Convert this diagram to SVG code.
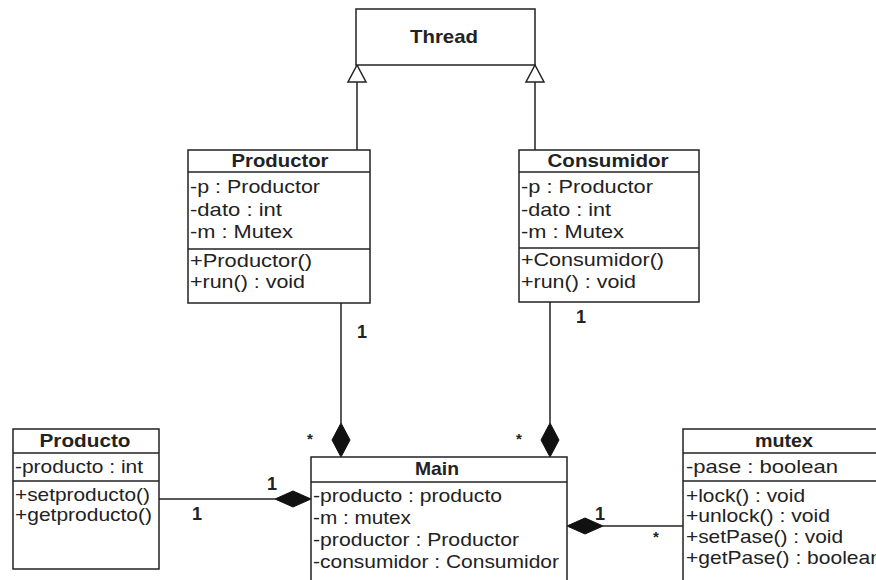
<svg xmlns="http://www.w3.org/2000/svg" width="876" height="580" viewBox="0 0 876 580">
<style>
.box{fill:#fff;stroke:#222;stroke-width:1.5}
.sep{stroke:#222;stroke-width:1.3}
.ln{stroke:#222;stroke-width:1.5;fill:none}
.dia{fill:#111;stroke:#111;stroke-width:1}
.tri{fill:#fff;stroke:#222;stroke-width:1.5}
text{font-family:"Liberation Sans",Arial,sans-serif;fill:#222}
.t{font-size:19px;font-weight:bold;text-anchor:middle}
.a{font-size:19px}
.m{font-size:18px;font-weight:bold;text-anchor:middle}
.s{font-size:15px;font-weight:bold;text-anchor:middle}
</style>
<rect width="876" height="580" fill="#fff"/>
<g id="connectors">
<line class="ln" x1="357" y1="82" x2="357" y2="150"/>
<polygon class="tri" points="357,65 348,82 366,82"/>
<line class="ln" x1="535" y1="82" x2="535" y2="150"/>
<polygon class="tri" points="535,65 526,82 544,82"/>
<line class="ln" x1="341" y1="303" x2="341" y2="423"/>
<polygon class="dia" points="341,423 350,440 341,457 332,440"/>
<line class="ln" x1="550" y1="302" x2="550" y2="423"/>
<polygon class="dia" points="550,423 559,440 550,457 541,440"/>
<line class="ln" x1="159" y1="499" x2="275" y2="499"/>
<polygon class="dia" points="311,499 293,491 275,499 293,507"/>
<line class="ln" x1="603" y1="526" x2="683" y2="526"/>
<polygon class="dia" points="567,526 585,518 603,526 585,534"/>
<text class="m" x="362" y="338">1</text>
<text class="m" x="581" y="323">1</text>
<text class="s" x="310" y="444">*</text>
<text class="s" x="519" y="444">*</text>
<text class="m" x="272" y="490">1</text>
<text class="m" x="197" y="520">1</text>
<text class="m" x="600" y="520">1</text>
<text class="s" x="656" y="542">*</text>
</g>
<g id="thread">
<rect class="box" x="356" y="9" width="179" height="56"/>
<text class="t" x="444" y="43" textLength="68" lengthAdjust="spacingAndGlyphs">Thread</text>
</g>
<g id="productor">
<rect class="box" x="188" y="150" width="182" height="153"/>
<line class="sep" x1="188" y1="172" x2="370" y2="172"/>
<line class="sep" x1="188" y1="249" x2="370" y2="249"/>
<text class="t" x="280" y="167" textLength="97" lengthAdjust="spacingAndGlyphs">Productor</text>
<text class="a" x="190" y="193" textLength="130" lengthAdjust="spacingAndGlyphs">-p : Productor</text>
<text class="a" x="190" y="216" textLength="92" lengthAdjust="spacingAndGlyphs">-dato : int</text>
<text class="a" x="190" y="238" textLength="103" lengthAdjust="spacingAndGlyphs">-m : Mutex</text>
<text class="a" x="190" y="267" textLength="122" lengthAdjust="spacingAndGlyphs">+Productor()</text>
<text class="a" x="190" y="288" textLength="115" lengthAdjust="spacingAndGlyphs">+run() : void</text>
</g>
<g id="consumidor">
<rect class="box" x="519" y="150" width="180" height="152"/>
<line class="sep" x1="519" y1="172" x2="699" y2="172"/>
<line class="sep" x1="519" y1="248" x2="699" y2="248"/>
<text class="t" x="608" y="167" textLength="121" lengthAdjust="spacingAndGlyphs">Consumidor</text>
<text class="a" x="521" y="193" textLength="132" lengthAdjust="spacingAndGlyphs">-p : Productor</text>
<text class="a" x="521" y="216" textLength="90" lengthAdjust="spacingAndGlyphs">-dato : int</text>
<text class="a" x="521" y="238" textLength="103" lengthAdjust="spacingAndGlyphs">-m : Mutex</text>
<text class="a" x="521" y="266" textLength="143" lengthAdjust="spacingAndGlyphs">+Consumidor()</text>
<text class="a" x="521" y="288" textLength="115" lengthAdjust="spacingAndGlyphs">+run() : void</text>
</g>
<g id="producto">
<rect class="box" x="13" y="429" width="146" height="140"/>
<line class="sep" x1="13" y1="453" x2="159" y2="453"/>
<line class="sep" x1="13" y1="481" x2="159" y2="481"/>
<text class="t" x="85" y="447" textLength="91" lengthAdjust="spacingAndGlyphs">Producto</text>
<text class="a" x="15" y="473" textLength="128" lengthAdjust="spacingAndGlyphs">-producto : int</text>
<text class="a" x="15" y="501" textLength="135" lengthAdjust="spacingAndGlyphs">+setproducto()</text>
<text class="a" x="15" y="521" textLength="137" lengthAdjust="spacingAndGlyphs">+getproducto()</text>
</g>
<g id="main">
<rect class="box" x="311" y="457" width="256" height="140"/>
<line class="sep" x1="311" y1="482" x2="567" y2="482"/>
<text class="t" x="437" y="475" textLength="44" lengthAdjust="spacingAndGlyphs">Main</text>
<text class="a" x="313" y="502" textLength="189" lengthAdjust="spacingAndGlyphs">-producto : producto</text>
<text class="a" x="313" y="524" textLength="98" lengthAdjust="spacingAndGlyphs">-m : mutex</text>
<text class="a" x="313" y="546" textLength="206" lengthAdjust="spacingAndGlyphs">-productor : Productor</text>
<text class="a" x="313" y="568" textLength="246" lengthAdjust="spacingAndGlyphs">-consumidor : Consumidor</text>
</g>
<g id="mutex">
<rect class="box" x="683" y="429" width="210" height="170"/>
<line class="sep" x1="683" y1="453" x2="893" y2="453"/>
<line class="sep" x1="683" y1="481" x2="893" y2="481"/>
<text class="t" x="784" y="447" textLength="58" lengthAdjust="spacingAndGlyphs">mutex</text>
<text class="a" x="686" y="473" textLength="152" lengthAdjust="spacingAndGlyphs">-pase : boolean</text>
<text class="a" x="686" y="502" textLength="119" lengthAdjust="spacingAndGlyphs">+lock() : void</text>
<text class="a" x="686" y="522" textLength="144" lengthAdjust="spacingAndGlyphs">+unlock() : void</text>
<text class="a" x="686" y="543" textLength="157" lengthAdjust="spacingAndGlyphs">+setPase() : void</text>
<text class="a" x="686" y="564" textLength="196" lengthAdjust="spacingAndGlyphs">+getPase() : boolean</text>
</g>
</svg>
